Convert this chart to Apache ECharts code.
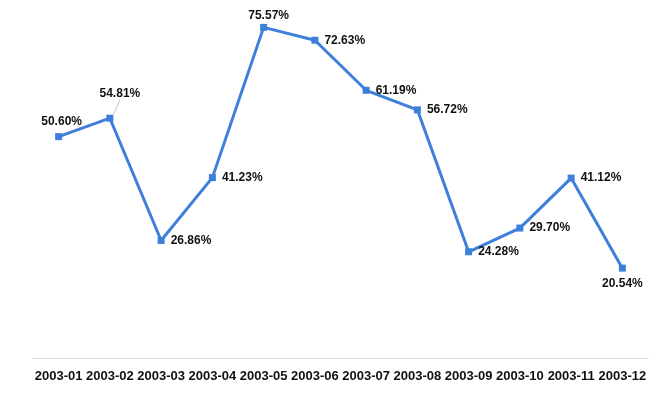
<!DOCTYPE html>
<html>
<head>
<meta charset="utf-8">
<script src="https://cdn.jsdelivr.net/npm/echarts@6/dist/echarts.min.js"></script>
<style>html,body{margin:0;padding:0;background:#fff;}#c{width:663px;height:396px;}</style>
</head>
<body>
<div id="c"></div>
<script>
var categories = ['2003-01','2003-02','2003-03','2003-04','2003-05','2003-06','2003-07','2003-08','2003-09','2003-10','2003-11','2003-12'];
var rates = [50.60, 54.81, 26.86, 41.23, 75.57, 72.63, 61.19, 56.72, 24.28, 29.70, 41.12, 20.54];
var labelPlacement = ['top','top','right','right','top','right','right','right','right','right','right','bottom'];

var chart = echarts.init(document.getElementById('c'));
var data = rates.map(function (v, i) {
  return {
    value: v,
    label: { position: labelPlacement[i] },
    labelLine: { show: i === 1, lineStyle: { color: '#c8c8c8', width: 1 } }
  };
});
chart.setOption({
  animation: false,
  backgroundColor: '#fff',
  grid: { left: 33, right: 15, top: 8, bottom: 38 },
  xAxis: {
    type: 'category',
    data: categories,
    boundaryGap: true,
    axisLine: { show: true, lineStyle: { color: '#dcdcdc', width: 1 } },
    axisTick: { show: false },
    axisLabel: { color: '#111', fontWeight: 'bold', fontSize: 13, fontFamily: 'Liberation Sans, Arial, sans-serif', margin: 12, interval: 0 }
  },
  yAxis: {
    type: 'value', min: 0, max: 80, show: false, splitLine: { show: false }
  },
  series: [{
    type: 'line',
    data: data,
    symbol: 'rect',
    symbolSize: 7,
    lineStyle: { color: '#3f7fdc', width: 3 },
    itemStyle: { color: '#3f7fdc' },
    label: {
      show: true,
      distance: 6,
      color: '#111',
      fontWeight: 'bold',
      fontSize: 12,
      fontFamily: 'Liberation Sans, Arial, sans-serif',
      formatter: function (p) { return p.value.toFixed(2) + '%'; }
    },
    labelLayout: function (p) {
      if (p.dataIndex === 1) return { dx: 10, dy: -9 };
      if (p.dataIndex === 0) return { dx: 3, dy: 1 };
      if (p.dataIndex === 4) return { dx: 5, dy: 4 };
      return {};
    }
  }]
});
</script>
</body>
</html>
